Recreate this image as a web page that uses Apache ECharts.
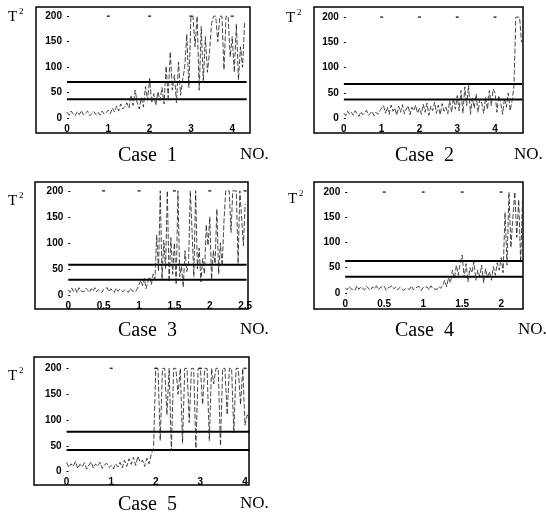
<!DOCTYPE html>
<html>
<head>
<meta charset="utf-8">
<script src="https://cdn.jsdelivr.net/npm/echarts@6/dist/echarts.min.js"></script>
<style>
  html, body { margin: 0; padding: 0; background: #fff; }
  #chart { width: 546px; height: 523px; }
</style>
</head>
<body>
<div id="chart"></div>
<script>
// T2 数据 (x = 序号 * 步长)
const case1Step = 0.05;
const case1T2 = [12, 6, 14, 8, 5, 13, 7, 15, 6, 10, 14, 5, 9, 13, 7, 12, 6, 14, 8, 11,
  16, 9, 20, 12, 24, 14, 28, 18, 22, 30,
  20, 45, 25, 55, 30, 18, 40, 22, 62, 35,
  78, 30, 48, 25, 52, 35, 60, 28, 102, 40,
  130, 55, 85, 30, 110, 45, 75, 100, 165, 60,
  200, 200, 140, 200, 55, 180, 70, 160, 90, 130,
  185, 200, 200, 150, 200, 200, 95, 200, 200, 120,
  160, 90, 185, 75, 140, 100, 190];

const case2Step = 0.05;
const case2T2 = [10, 5, 14, 8, 12, 6, 15, 9, 4, 13, 7, 11, 16, 6, 10, 14, 5, 12, 8, 15,
  18, 25, 10, 22, 8, 26, 14, 20, 6, 24, 12, 27, 9, 18, 25, 7, 22, 15, 26, 10,
  20, 8, 28, 12, 30, 6, 24, 15, 32, 10, 26, 7, 29, 14, 22, 9, 35, 12, 40, 18,
  45, 15, 55, 10, 62, 25, 65, 8, 40, 20, 48, 12, 38, 30, 10, 42, 18, 55, 25, 58,
  50, 12, 45, 30, 8, 40, 22, 50, 15, 35, 62,
  200, 200, 200, 150];

const case3Step = 0.025;
const case3T2 = [10, 5, 13, 7, 12, 4, 14, 8, 11, 6, 13, 9, 5, 12, 7, 14, 6, 10, 13, 5,
  11, 8, 14, 6, 12, 9, 5, 13, 7, 11, 14, 6, 10, 12, 5, 13, 8, 11, 6, 12,
  15, 28, 18, 32, 12, 25, 35, 20, 40, 30,
  115, 45, 200, 30, 105, 50, 200, 25, 110, 40,
  100, 20, 200, 35, 55, 15, 85, 45, 60, 200,
  120, 35, 200, 50, 90, 25, 70, 40, 135, 95,
  150, 30, 85, 60, 165, 40, 100, 55, 140, 200,
  200, 200, 120, 200, 200, 200, 60, 200, 200, 95, 175];

const case4Step = 0.025;
const case4T2 = [10, 6, 13, 8, 11, 5, 14, 7, 12, 9, 6, 13, 10, 5, 12, 8, 14, 6, 11, 9,
  13, 5, 10, 7, 14, 8, 12, 6, 11, 13, 5, 9, 12, 7, 14, 6, 10, 8, 13, 5,
  11, 9, 12, 6, 14, 8, 10, 7, 13, 9,
  15, 25, 12, 30, 20, 45, 28, 55, 35, 60,
  75, 30, 58, 22, 50, 40, 62, 25, 45, 33,
  55, 20, 48, 30, 42, 25, 52, 35, 60, 45,
  70, 40, 160, 55, 200, 90, 150, 200, 110, 185, 60, 190];

const case5Step = 0.05;
const case5T2 = [18, 8, 15, 10, 20, 6, 14, 9, 17, 5, 12, 19, 7, 15, 10, 18, 6, 13, 16, 8,
  12, 5, 15, 9, 18, 7, 22, 10, 25, 14, 28, 12, 30, 18, 22, 10, 26, 15, 35,
  45, 200, 200, 60, 200, 200, 110, 200, 40, 200, 200, 150, 200, 55, 200, 200, 95, 200, 200, 45,
  200, 200, 130, 200, 200, 60, 200, 170, 200, 200, 50, 200, 200, 110, 200, 200, 75, 200, 200, 130,
  200, 90, 110, 100];

// 控制限 [上, 下]
const case1Limits = [71, 37];
const case2Limits = [68, 37];
const case3Limits = [58, 29];
const case4Limits = [63, 32];
const case5Limits = [77, 42];

// 刻度
const xTicks4 = [0, 1, 2, 3, 4];
const xTicks25 = [0, 0.5, 1, 1.5, 2, 2.5];
const xTicks2 = [0, 0.5, 1, 1.5, 2];
const yTicks = [0, 50, 100, 150, 200];

const caseNames = ['Case  1', 'Case  2', 'Case  3', 'Case  4', 'Case  5'];

// 每个小图的布局
const panels = [
  { data: case1T2, step: case1Step, limits: case1Limits, xEnd: 4.35, xTicks: xTicks4,
    grid: [36, 7, 214, 126], x: [-0.75, 4.43], y: [-29, 218] },
  { data: case2T2, step: case2Step, limits: case2Limits, xEnd: 4.72, xTicks: xTicks4,
    grid: [314, 7, 209, 126], x: [-0.79, 4.74], y: [-29, 220] },
  { data: case3T2, step: case3Step, limits: case3Limits, xEnd: 2.52, xTicks: xTicks25,
    grid: [35, 182, 213, 127], x: [-0.47, 2.54], y: [-27, 217] },
  { data: case4T2, step: case4Step, limits: case4Limits, xEnd: 2.28, xTicks: xTicks2,
    grid: [314, 182, 209, 127], x: [-0.40, 2.28], y: [-32, 220] },
  { data: case5T2, step: case5Step, limits: case5Limits, xEnd: 4.1, xTicks: xTicks4,
    grid: [34, 357, 215, 128], x: [-0.73, 4.09], y: [-26, 222] }
];

// 文字位置
const labelPos = [
  { t: [8, 17], cx: 118, cy: 156, no: [240, 155] },
  { t: [286, 18], cx: 395, cy: 156, no: [514, 155] },
  { t: [8, 201], cx: 118, cy: 331, no: [240, 330] },
  { t: [288, 199], cx: 395, cy: 331, no: [518, 330] },
  { t: [8, 376], cx: 118, cy: 505, no: [240, 504] }
];

function getChart() {
  let chart = echarts.init(document.getElementById('chart'));
  let grid = [], xAxis = [], yAxis = [], series = [], graphic = [];
  let labelStyle = { color: '#000', fontSize: 10, fontWeight: 'bold', fontFamily: 'Liberation Sans' };

  panels.forEach(function (p, i) {
    // 坐标轴移到 0 处 (负 offset 向框内移动)
    let xOff = -(0 - p.y[0]) / (p.y[1] - p.y[0]) * p.grid[3];
    let yOff = -(0 - p.x[0]) / (p.x[1] - p.x[0]) * p.grid[2];

    grid.push({
      left: p.grid[0], top: p.grid[1], width: p.grid[2], height: p.grid[3],
      show: true, borderColor: '#000', borderWidth: 1.5, backgroundColor: '#fff'
    });
    xAxis.push({
      gridIndex: i, type: 'value', min: p.x[0], max: p.x[1], offset: xOff,
      axisLine: { show: false },
      axisTick: { show: false },
      splitLine: { show: false },
      axisLabel: Object.assign({ customValues: p.xTicks, margin: 6 }, labelStyle)
    });
    yAxis.push({
      gridIndex: i, type: 'value', min: p.y[0], max: p.y[1], offset: yOff,
      axisLine: { show: false },
      axisTick: { show: true, customValues: yTicks, inside: true, length: 2, lineStyle: { color: '#000', width: 1 } },
      splitLine: { show: false },
      axisLabel: Object.assign({ customValues: yTicks, margin: 5 }, labelStyle)
    });
    // 控制限
    p.limits.forEach(function (v) {
      series.push({
        type: 'line', xAxisIndex: i, yAxisIndex: i, silent: true,
        symbol: 'none', data: [[0, v], [p.xEnd, v]],
        lineStyle: { color: '#000', width: 2 }
      });
    });
    // T2
    series.push({
      type: 'line', xAxisIndex: i, yAxisIndex: i, silent: true,
      symbol: 'none',
      data: p.data.map(function (v, k) { return [+(k * p.step).toFixed(3), v]; }),
      lineStyle: { color: '#1a1a1a', width: 0.8, type: [5, 2] }
    });
    // 顶部 200 处的刻度小点
    series.push({
      type: 'scatter', xAxisIndex: i, yAxisIndex: i, silent: true,
      symbol: 'rect', symbolSize: [3, 1.5],
      data: p.xTicks.filter(function (v) { return v > 0; }).map(function (v) { return [v, 200]; }),
      itemStyle: { color: '#000' }
    });

    let lp = labelPos[i];
    graphic.push(
      { type: 'text', x: lp.t[0], y: lp.t[1],
        style: { text: 'T', font: '15px "Liberation Serif"', fill: '#000', align: 'left', verticalAlign: 'middle' } },
      { type: 'text', x: lp.t[0] + 11, y: lp.t[1] - 5,
        style: { text: '2', font: '9px "Liberation Serif"', fill: '#000', align: 'left', verticalAlign: 'middle' } },
      { type: 'text', x: lp.cx, y: lp.cy,
        style: { text: caseNames[i], font: '20px "Liberation Serif"', fill: '#000', align: 'left', verticalAlign: 'middle' } },
      { type: 'text', x: lp.no[0], y: lp.no[1],
        style: { text: 'NO.', font: '17px "Liberation Serif"', fill: '#000', align: 'left', verticalAlign: 'middle' } }
    );
  });

  let option = {
    animation: false,
    backgroundColor: '#fff',
    grid: grid,
    xAxis: xAxis,
    yAxis: yAxis,
    series: series,
    graphic: graphic
  };
  chart.setOption(option);
}

getChart();
</script>
</body>
</html>
